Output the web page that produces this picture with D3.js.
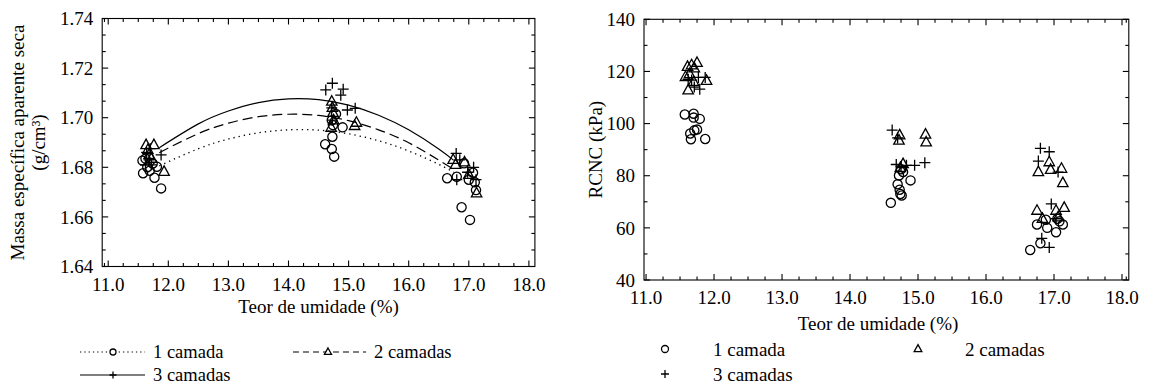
<!DOCTYPE html>
<html>
<head>
<meta charset="utf-8">
<script src="https://cdn.jsdelivr.net/npm/d3@7"></script>
<style>
  body { margin: 0; background: #fff; }
  svg { display: block; font-family: "Liberation Serif", "DejaVu Serif", serif; }
</style>
</head>
<body>
<div id="chart"></div>
<script>
// ---- data ----
const xTicks = [11, 12, 13, 14, 15, 16, 17, 18];
const densTicks = [1.64, 1.66, 1.68, 1.70, 1.72, 1.74];
const rcncTicks = [40, 60, 80, 100, 120, 140];
const seriesNames = ["1 camada", "2 camadas", "3 camadas"];

// massa especifica aparente seca (left)
const dens1 = [[11.58,1.6776],[11.57,1.6827],[11.77,1.6758],[11.81,1.6802],[11.88,1.6715],[11.65,1.680],[11.69,1.6786],[11.62,1.6835],[11.74,1.6815],
  [14.61,1.6893],[14.72,1.6874],[14.76,1.6843],[14.73,1.6923],[14.79,1.7015],[14.90,1.6961],[14.72,1.699],[14.74,1.697],
  [16.64,1.6756],[16.80,1.6762],[16.88,1.6639],[17.02,1.6588],[16.92,1.6816],[17.07,1.6778],[17.12,1.6708],[17.00,1.675],[17.10,1.674]];
const dens2 = [[11.63,1.689],[11.76,1.689],[11.93,1.6782],[11.68,1.685],[11.66,1.687],[11.72,1.6835],
  [14.72,1.7065],[14.73,1.704],[14.71,1.696],[14.75,1.699],[15.10,1.6967],[15.13,1.698],[14.74,1.702],
  [16.74,1.683],[16.93,1.682],[17.13,1.6695],[17.00,1.677],[16.78,1.681]];
const dens3 = [[11.88,1.685],[11.64,1.686],[11.68,1.683],[11.72,1.681],[11.62,1.681],[11.70,1.6875],
  [14.62,1.7112],[14.73,1.7139],[14.91,1.7115],[14.87,1.7091],[14.98,1.7031],[15.11,1.7038],[14.72,1.704],[14.73,1.699],
  [16.79,1.6856],[16.85,1.683],[17.08,1.680],[16.80,1.675],[16.98,1.678],[17.12,1.675]];

// fitted curves, read at these moisture values
const fitX = [11.85, 12.5, 13, 13.5, 14, 14.5, 15, 15.5, 16, 16.5, 16.75];
const fit1 = [1.6806, 1.6875, 1.6914, 1.6939, 1.6951, 1.6950, 1.6935, 1.6907, 1.6866, 1.6812, 1.6780];
const fit2 = [1.6859, 1.6936, 1.6978, 1.7004, 1.7014, 1.7009, 1.6988, 1.6951, 1.6899, 1.6829, 1.6792];
const fit3 = [1.6879, 1.6975, 1.7027, 1.7061, 1.7076, 1.7073, 1.7051, 1.7010, 1.6951, 1.6874, 1.6828];

// RCNC (right)
const rcnc1 = [[11.57,103.5],[11.70,103.8],[11.70,102.3],[11.79,101.8],[11.65,96.2],[11.71,97.4],[11.75,97.7],[11.66,94.0],[11.87,94.1],
  [14.72,80.1],[14.89,78.2],[14.70,76.7],[14.73,74.6],[14.76,72.4],[14.60,69.6],[14.78,81.4],[14.74,73.0],[14.75,82.5],
  [16.75,61.3],[16.88,63.1],[16.90,60.0],[17.03,58.3],[17.13,61.3],[17.05,63.5],[17.08,62.5],[16.65,51.5],[16.80,54.1]];
const rcnc2 = [[11.61,121.8],[11.67,122.4],[11.75,123.3],[11.71,121.2],[11.58,117.9],[11.64,119.0],[11.89,116.4],[11.62,112.8],[11.70,116.0],
  [14.73,95.5],[14.72,93.5],[15.11,95.8],[15.12,92.8],[14.78,84.5],[14.74,83.0],
  [16.93,85.2],[16.77,81.4],[16.95,82.3],[17.11,82.7],[17.13,77.2],[16.75,66.6],[17.03,66.6],[17.15,67.7],[16.83,63.5],[17.06,64.1]];
const rcnc3 = [[11.67,116.7],[11.77,117.7],[11.87,117.7],[11.79,113.2],[11.62,117.0],[11.71,114.0],
  [14.62,97.5],[14.70,94.5],[14.68,84.3],[14.83,84.0],[14.95,84.0],[15.10,85.0],[14.75,83.5],
  [16.80,90.5],[16.93,89.2],[16.77,85.6],[17.06,81.4],[16.96,69.2],[16.82,56.0],[16.93,52.5],[17.03,63.5]];

// ---- canvas ----
const width = 1154, height = 387;
const svg = d3.select("#chart").append("svg")
  .attr("width", width).attr("height", height);
svg.append("rect").attr("width", width).attr("height", height).attr("fill", "#fff");

const fontSize = 19;

// marker paths
const markerPath = {
  circle: r => d3.symbol(d3.symbolCircle, Math.PI * r * r)(),
  triangle: s => `M0,${-s * 0.62}L${s * 0.55},${s * 0.38}L${-s * 0.55},${s * 0.38}Z`,
  plus: s => `M${-s},0H${s}M0,${-s}V${s}`
};

function drawMarkers(g, data, x, y, kind) {
  const d = kind === "circle" ? markerPath.circle(4.6)
    : kind === "triangle" ? markerPath.triangle(9.5)
    : markerPath.plus(5.5);
  g.append("g").selectAll("path")
    .data(data)
    .join("path")
    .attr("d", d)
    .attr("transform", p => `translate(${x(p[0])},${y(p[1])})`)
    .attr("fill", "none")
    .attr("stroke", "#000")
    .attr("stroke-width", 1.3);
}

// frame with inward ticks on all four sides
function drawFrame(x, y, majorX, majorY, minorX, minorY, fmtX, fmtY) {
  const [x0, x1] = x.range();
  const [y0, y1] = y.range(); // y0 bottom, y1 top
  const g = svg.append("g").attr("stroke", "#000").attr("stroke-width", 1.1);
  g.append("rect").attr("x", x0).attr("y", y1)
    .attr("width", x1 - x0).attr("height", y0 - y1).attr("fill", "none");

  const xt = majorX.map(v => [v, 6]).concat(minorX.map(v => [v, 3.5]));
  const yt = majorY.map(v => [v, 6]).concat(minorY.map(v => [v, 3.5]));
  xt.forEach(([v, l]) => {
    g.append("line").attr("x1", x(v)).attr("x2", x(v)).attr("y1", y0).attr("y2", y0 - l);
    g.append("line").attr("x1", x(v)).attr("x2", x(v)).attr("y1", y1).attr("y2", y1 + l);
  });
  yt.forEach(([v, l]) => {
    g.append("line").attr("y1", y(v)).attr("y2", y(v)).attr("x1", x0).attr("x2", x0 + l);
    g.append("line").attr("y1", y(v)).attr("y2", y(v)).attr("x1", x1).attr("x2", x1 - l);
  });

  svg.append("g").selectAll("text").data(majorX).join("text")
    .attr("x", d => x(d)).attr("y", y0 + 24)
    .attr("text-anchor", "middle").attr("font-size", fontSize)
    .text(fmtX);
  svg.append("g").selectAll("text").data(majorY).join("text")
    .attr("x", x0 - 9).attr("y", d => y(d)).attr("dy", "0.35em")
    .attr("text-anchor", "end").attr("font-size", fontSize)
    .text(fmtY);
}

function minorBetween(ticks, parts) {
  const out = [];
  for (let i = 0; i < ticks.length - 1; i++) {
    const step = (ticks[i + 1] - ticks[i]) / parts;
    for (let k = 1; k < parts; k++) out.push(ticks[i] + k * step);
  }
  return out;
}

// ================= LEFT PANEL =================
const xL = d3.scaleLinear().domain([10.9, 18.1]).range([102.2, 534.9]);
const yL = d3.scaleLinear().domain([1.64, 1.74]).range([266.5, 18.5]);

drawFrame(xL, yL, xTicks, densTicks,
  minorBetween([10.75].concat(xTicks), 4).filter(v => v > 10.9),
  minorBetween(densTicks, 3),
  d3.format(".1f"), d3.format(".2f"));

const gL = svg.append("g");
const fitLine = d3.line()
  .x((d, i) => xL(fitX[i]))
  .y(d => yL(d))
  .curve(d3.curveNatural);

const curveStyles = [
  { data: fit1, dash: "1.3,4", width: 1.3 },
  { data: fit2, dash: "10,5", width: 1.2 },
  { data: fit3, dash: null, width: 1.2 }
];
curveStyles.forEach(c => {
  gL.append("path")
    .attr("d", fitLine(c.data))
    .attr("fill", "none")
    .attr("stroke", "#000")
    .attr("stroke-width", c.width)
    .attr("stroke-dasharray", c.dash);
});

drawMarkers(gL, dens1, xL, yL, "circle");
drawMarkers(gL, dens2, xL, yL, "triangle");
drawMarkers(gL, dens3, xL, yL, "plus");

svg.append("text")
  .attr("x", (xL.range()[0] + xL.range()[1]) / 2).attr("y", 313)
  .attr("text-anchor", "middle").attr("font-size", fontSize)
  .text("Teor de umidade (%)");

const yTitleL = svg.append("text")
  .attr("transform", `translate(24,${(yL.range()[0] + yL.range()[1]) / 2}) rotate(-90)`)
  .attr("text-anchor", "middle").attr("font-size", fontSize);
yTitleL.append("tspan").attr("x", 0).attr("dy", 0).text("Massa específica aparente seca");
yTitleL.append("tspan").attr("x", 0).attr("dy", 21).text("(g/cm³)");

// left legend
const legL = svg.append("g");
const legRowsL = [
  { name: seriesNames[0], x0: 80, x1: 145, mx: 113, y: 352, dash: "1.3,3", kind: "circle" },
  { name: seriesNames[1], x0: 293, x1: 366, mx: 328, y: 352, dash: "6,4", kind: "triangle" },
  { name: seriesNames[2], x0: 80, x1: 145, mx: 113, y: 375, dash: null, kind: "plus" }
];
legRowsL.forEach(r => {
  legL.append("line")
    .attr("x1", r.x0).attr("x2", r.x1).attr("y1", r.y).attr("y2", r.y)
    .attr("stroke", "#000").attr("stroke-width", 1.2)
    .attr("stroke-dasharray", r.dash);
  const d = r.kind === "circle" ? markerPath.circle(3)
    : r.kind === "triangle" ? markerPath.triangle(6.5)
    : markerPath.plus(3.5);
  legL.append("path").attr("d", d)
    .attr("transform", `translate(${r.mx},${r.y})`)
    .attr("fill", r.kind === "plus" ? "none" : "#fff")
    .attr("stroke", "#000").attr("stroke-width", 1.3);
  legL.append("text")
    .attr("x", r.x1 + 8).attr("y", r.y).attr("dy", "0.35em")
    .attr("font-size", 18.5).text(r.name);
});

// ================= RIGHT PANEL =================
const xR = d3.scaleLinear().domain([10.97, 18.1]).range([644, 1128.8]);
const yR = d3.scaleLinear().domain([40, 140]).range([280, 19.3]);

drawFrame(xR, yR, xTicks, rcncTicks,
  minorBetween(xTicks.concat([18.25]), 4).filter(v => v < 18.1),
  minorBetween(rcncTicks, 2),
  d3.format(".1f"), d3.format("d"));

const gR = svg.append("g");
drawMarkers(gR, rcnc1, xR, yR, "circle");
drawMarkers(gR, rcnc2, xR, yR, "triangle");
drawMarkers(gR, rcnc3, xR, yR, "plus");

svg.append("text")
  .attr("x", 878).attr("y", 330)
  .attr("text-anchor", "middle").attr("font-size", fontSize)
  .text("Teor de umidade (%)");

svg.append("text")
  .attr("transform", `translate(602,${(yR.range()[0] + yR.range()[1]) / 2}) rotate(-90)`)
  .attr("text-anchor", "middle").attr("font-size", fontSize)
  .text("RCNC (kPa)");

// right legend
const legR = svg.append("g");
const legRowsR = [
  { name: seriesNames[0], mx: 665, tx: 713, y: 349, kind: "circle" },
  { name: seriesNames[1], mx: 918, tx: 965, y: 349, kind: "triangle" },
  { name: seriesNames[2], mx: 665, tx: 713, y: 374, kind: "plus" }
];
legRowsR.forEach(r => {
  const d = r.kind === "circle" ? markerPath.circle(3.5)
    : r.kind === "triangle" ? markerPath.triangle(7)
    : markerPath.plus(4);
  legR.append("path").attr("d", d)
    .attr("transform", `translate(${r.mx},${r.y})`)
    .attr("fill", "none").attr("stroke", "#000").attr("stroke-width", 1.3);
  legR.append("text")
    .attr("x", r.tx).attr("y", r.y).attr("dy", "0.35em")
    .attr("font-size", fontSize).text(r.name);
});
</script>
</body>
</html>
